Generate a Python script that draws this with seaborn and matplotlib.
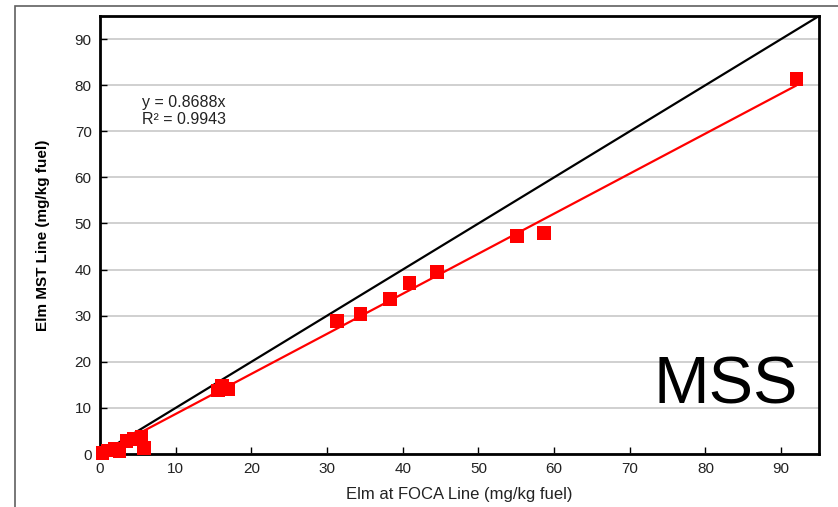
import matplotlib
matplotlib.use("Agg")
import matplotlib.pyplot as plt
import seaborn as sns
import numpy as np
import pandas as pd
from matplotlib.patches import Rectangle

# Data
foca = [0.3, 1.0, 2.0, 2.6, 3.5, 4.5, 5.5, 5.8,
        15.6, 16.1, 16.9, 31.3, 34.4, 38.3, 40.9, 44.5, 55.1, 58.7, 92.0]
mst = [0.2, 0.8, 1.2, 0.6, 2.8, 3.2, 3.8, 1.3,
       13.8, 14.7, 14.1, 28.9, 30.4, 33.6, 37.1, 39.5, 47.3, 47.9, 81.3]
slope = 0.8688
r2 = 0.9943
ticks = [0, 10, 20, 30, 40, 50, 60, 70, 80, 90]
ax_max = 95

sns.set_style("white")
plt.rcParams['font.family'] = ['Liberation Sans Narrow', 'Liberation Sans', 'DejaVu Sans']

fig = plt.figure(figsize=(8.38, 5.07), dpi=100)
W, H = 838, 507
ax = fig.add_axes([100 / W, (H - 454) / H, (819 - 100) / W, (454 - 16) / H])

# outer frame
fig.patches.append(Rectangle((15 / W, -0.1), 1.2, (H - 6) / H + 0.1,
                             transform=fig.transFigure, fill=False,
                             edgecolor='#606060', linewidth=1.2))

df = pd.DataFrame({"x": foca, "y": mst})
one = pd.DataFrame({"x": [0, ax_max], "y": [0, ax_max]})
xmax = max(foca)
fit = pd.DataFrame({"x": [0, xmax], "y": [0, slope * xmax]})

sns.lineplot(data=one, x="x", y="y", color="black", linewidth=1.6, ax=ax, zorder=3)
sns.lineplot(data=fit, x="x", y="y", color="#ff0000", linewidth=1.6, ax=ax, zorder=4)
sns.scatterplot(data=df, x="x", y="y", marker="s", s=95, color="#ff0000",
                edgecolor="none", ax=ax, zorder=5, clip_on=False)

ax.set_xlim(0, ax_max)
ax.set_ylim(0, ax_max)
ax.set_xticks(ticks)
ax.set_yticks(ticks)
ax.yaxis.grid(True, color="#c8c8c8", linewidth=1.2)
ax.xaxis.grid(False)
ax.set_axisbelow(True)
ax.tick_params(axis='both', direction='in', length=5, width=1, color='black',
               labelsize=11, labelcolor='#222222', pad=6)
ax.tick_params(axis='x', bottom=True, top=False)
ax.tick_params(axis='y', left=True, right=False)
for sp in ax.spines.values():
    sp.set_color("black")
    sp.set_linewidth(2)

ax.set_xlabel("Elm at FOCA Line (mg/kg fuel)", fontsize=12, color='#222222', labelpad=8)
ax.set_ylabel("Elm MST Line (mg/kg fuel)", fontsize=11, fontweight='bold',
              family=['Liberation Sans', 'DejaVu Sans'], color='black', labelpad=18)

ax.text(5.5, 74.4, f"y = {slope}x\nR² = {r2}", fontsize=11.5,
        family=['Liberation Sans', 'DejaVu Sans'], color='#222222',
        va='center', ha='left', linespacing=1.2)
ax.text(92.2, 10.9, "MSS", fontsize=48, family=['Liberation Sans', 'DejaVu Sans'],
        color='black', ha='right', va='baseline')

fig.savefig("out.png", dpi=100)
